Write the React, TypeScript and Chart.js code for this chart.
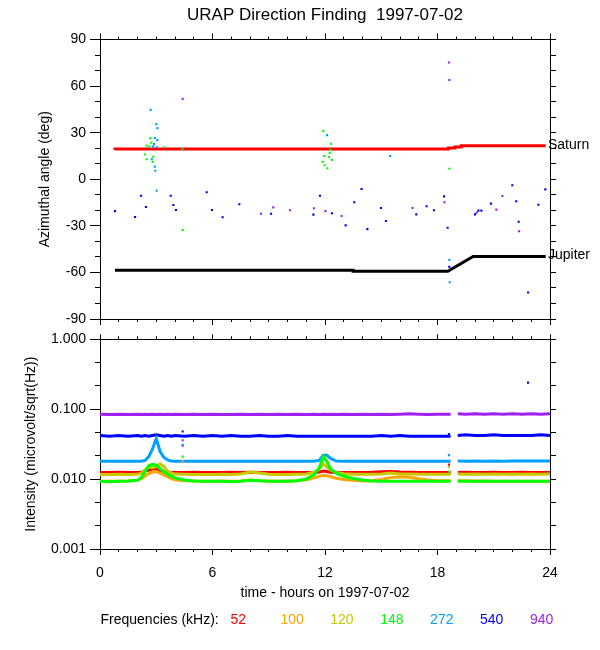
import React, { useEffect, useRef } from 'react';
import { Chart, registerables } from 'chart.js';

Chart.register(...registerables);

const FONT = '"Liberation Sans", Arial, Helvetica, sans-serif';

// ---------- texts ----------
const TITLE = 'URAP Direction Finding  1997-07-02';
const X_TITLE = 'time - hours on 1997-07-02';
const Y_TOP_TITLE = 'Azimuthal angle (deg)';
const Y_BOTTOM_TITLE = 'Intensity (microvolt/sqrt(Hz))';
const LEGEND_TITLE = 'Frequencies (kHz):';
const freqLabels = ['52', '100', '120', '148', '272', '540', '940'];
const freqColors = ['#ff0000', '#ffa500', '#c8c800', '#00ff00', '#00a0ff', '#0000ff', '#a020f0'];
const bodyNames = ['Saturn', 'Jupiter'];

// ---------- ticks ----------
const hourMajorTicks = [0, 6, 12, 18, 24];
const hourMinorTicks = [1, 2, 3, 4, 5, 7, 8, 9, 10, 11, 13, 14, 15, 16, 17, 19, 20, 21, 22, 23];
const angleMajorTicks = [-90, -60, -30, 0, 30, 60, 90];
const angleMinorTicks = [-80, -70, -50, -40, -20, -10, 10, 20, 40, 50, 70, 80];
const angleAllTicks = [-90, -80, -70, -60, -50, -40, -30, -20, -10, 0, 10, 20, 30, 40, 50, 60, 70, 80, 90];
const intensityDecadeTicks = [0.001, 0.01, 0.1, 1];
const intensityMinorTicks = [0.00215, 0.00464, 0.0215, 0.0464, 0.215, 0.464];
const intensityAllTicks = [0.001, 0.00215, 0.00464, 0.01, 0.0215, 0.0464, 0.1, 0.215, 0.464, 1];

// ---------- top panel: source directions ----------
const saturnHours = [0.8, 18.58, 18.93, 19.27, 19.63, 23.77];
const saturnAngles = [18.9, 19.5, 20.2, 20.8, 21.5, 21.5];
const jupiterHours = [0.8, 13.5, 13.5, 18.55, 19.9, 23.77];
const jupiterAngles = [-58.6, -58.6, -59.3, -59.3, -49.8, -49.8];

// [hour, azimuth deg]
const df940 = [
  [4.41, 51.8], [8.59, -22.2], [9.24, -18.1], [10.13, -20.0], [11.41, -18.7], [12.02, -20.5],
  [12.89, -23.7], [16.67, -18.5], [18.37, -14.8], [18.61, 75.2], [18.63, 63.9], [20.09, -21.5],
  [21.14, -19.6], [21.46, -10.8], [22.35, -33.5],
];
const df540 = [
  [0.8, -20.5], [1.87, -24.3], [2.19, -10.6], [2.45, -17.9], [3.77, -10.6], [3.91, -16.6],
  [4.05, -19.8], [5.69, -8.4], [5.97, -19.8], [6.54, -24.5], [7.43, -16.1], [9.12, -22.2],
  [11.38, -22.8], [11.73, -10.6], [12.37, -21.9], [13.1, -29.7], [13.56, -14.8], [13.95, -6.3],
  [14.26, -32.1], [14.99, -18.5], [15.25, -26.9], [16.87, -22.6], [17.42, -17.4], [17.81, -20.0],
  [18.35, -11.0], [18.54, -31.2], [18.63, -56.4], [20.0, -22.6], [20.18, -20.2], [20.34, -20.2],
  [20.85, -15.7], [21.99, -3.9], [22.2, -14.2], [22.33, -27.4], [22.83, -72.9], [23.38, -16.4],
  [23.75, -6.5],
];
const df272 = [
  [2.7, 44.7], [3.0, 35.5], [3.06, 32.9], [2.93, 26.6], [3.06, 25.2], [2.83, 21.0], [2.88, 22.6],
  [3.04, 20.6], [2.76, 12.9], [2.92, 8.1], [2.95, 5.5], [3.02, -7.4], [12.11, 28.4], [15.47, 15.0],
  [18.63, -51.9], [18.65, -66.3],
];
const df148 = [
  [2.68, 26.5], [2.74, 23.6], [2.49, 21.7], [2.63, 21.0], [3.43, 20.6], [4.39, 19.7], [2.4, 15.9],
  [2.49, 12.9], [2.84, 14.6], [2.81, 11.2], [4.41, -32.7], [11.91, 31.0], [12.32, 22.8], [12.27, 18.9],
  [12.25, 17.0], [11.95, 15.0], [12.21, 14.3], [12.36, 12.5], [11.87, 11.2], [11.98, 9.0], [12.12, 7.1],
  [18.63, 6.8],
];

// ---------- bottom panel: intensities ----------
const hours = [
  0, 0.5, 1, 1.5, 2,
  2.2, 2.4, 2.6, 2.8, 3.0, 3.2, 3.4, 3.6, 3.8, 4.0,
  4.5, 5, 5.5, 6, 6.5, 7, 7.5, 8, 8.5, 9, 9.5, 10, 10.5, 11,
  11.4, 11.7, 11.9, 12.1, 12.3, 12.6, 13,
  13.5, 14, 14.5, 15, 15.5, 16, 16.5, 17, 17.5, 18, 18.7,
  18.9,
  19.08, 19.5, 20, 20.5, 21, 21.5, 22, 22.5, 23, 23.5, 24,
];
const int52 = [
  0.0124, 0.0124, 0.0125, 0.0124, 0.0124,
  0.0125, 0.013, 0.0135, 0.014, 0.0138, 0.0133, 0.0128, 0.0125, 0.0124, 0.0124,
  0.0124, 0.0125, 0.0124, 0.0124, 0.0124, 0.0125, 0.0124, 0.0125, 0.0124, 0.0124, 0.0124, 0.0125, 0.0124, 0.0124,
  0.0124, 0.0126, 0.013, 0.0128, 0.0125, 0.0124, 0.0124,
  0.0124, 0.0124, 0.0125, 0.0127, 0.0128, 0.0126, 0.0125, 0.0124, 0.0124, 0.0124, 0.0124,
  null,
  0.0124, 0.0125, 0.0124, 0.0124, 0.0125, 0.0124, 0.0124, 0.0125, 0.0124, 0.0124, 0.0124,
];
const int100 = [
  0.0093, 0.0093, 0.0093, 0.0094, 0.0096,
  0.0102, 0.011, 0.012, 0.0126, 0.0128, 0.0122, 0.0115, 0.0108, 0.0102, 0.0098,
  0.0095, 0.0094, 0.0093, 0.0093, 0.0094, 0.0093, 0.0094, 0.0097, 0.0095, 0.0094, 0.0093, 0.0094, 0.0095, 0.0098,
  0.0104, 0.011, 0.0113, 0.0112, 0.0108, 0.0103, 0.0099,
  0.0096, 0.0094, 0.0095, 0.0099, 0.0105, 0.0108, 0.0106, 0.0101, 0.0097, 0.0095, 0.0095,
  null,
  0.0095, 0.0095, 0.0094, 0.0094, 0.0093, 0.0093, 0.0093, 0.0093, 0.0093, 0.0093, 0.0093,
];
const int120 = [
  0.0116, 0.0116, 0.0117, 0.0116, 0.0117,
  0.0122, 0.0135, 0.0148, 0.0145, 0.0152, 0.0165, 0.0152, 0.013, 0.0122, 0.0118,
  0.0117, 0.0116, 0.0116, 0.0116, 0.0117, 0.0116, 0.0118, 0.0126, 0.0122, 0.0117, 0.0116, 0.0116, 0.0117, 0.0118,
  0.0125, 0.014, 0.0165, 0.015, 0.0135, 0.0124, 0.0119,
  0.0117, 0.0117, 0.0117, 0.0118, 0.0122, 0.0118, 0.0118, 0.0117, 0.0117, 0.0117, 0.0117,
  null,
  0.0118, 0.0117, 0.0118, 0.0117, 0.0118, 0.0117, 0.0118, 0.0117, 0.0118, 0.0117, 0.0118,
];
const int148 = [
  0.0093, 0.0092, 0.0093, 0.0094, 0.0096,
  0.0105, 0.0128, 0.0155, 0.0163, 0.0158, 0.014, 0.0128, 0.0117, 0.011, 0.0104,
  0.0097, 0.0094, 0.0093, 0.0093, 0.0093, 0.0092, 0.0093, 0.0096, 0.0095, 0.0093, 0.0093, 0.0093, 0.0095, 0.01,
  0.0115, 0.0145, 0.021, 0.018, 0.0138, 0.0122, 0.011,
  0.0102, 0.0097, 0.0094, 0.0093, 0.0093, 0.0093, 0.0093, 0.0093, 0.0093, 0.0093, 0.0093,
  null,
  0.0093, 0.0093, 0.0093, 0.0093, 0.0093, 0.0093, 0.0093, 0.0093, 0.0093, 0.0093, 0.0093,
];
const int272 = [
  0.018, 0.018, 0.018, 0.018, 0.018,
  0.018, 0.0185, 0.021, 0.027, 0.038, 0.025, 0.0205, 0.0188, 0.0181, 0.018,
  0.018, 0.018, 0.018, 0.018, 0.018, 0.018, 0.018, 0.018, 0.018, 0.018, 0.018, 0.018, 0.018, 0.018,
  0.018, 0.0185, 0.022, 0.022, 0.0198, 0.0181, 0.018,
  0.018, 0.018, 0.018, 0.018, 0.018, 0.018, 0.018, 0.018, 0.018, 0.018, 0.018,
  null,
  0.0181, 0.018, 0.0181, 0.018, 0.0181, 0.018, 0.0181, 0.0182, 0.0181, 0.0182, 0.0181,
];
const int540 = [
  0.042, 0.041, 0.042, 0.041, 0.042,
  0.041, 0.042, 0.041, 0.042, 0.043, 0.042, 0.041, 0.042, 0.041, 0.042,
  0.041, 0.042, 0.041, 0.042, 0.041, 0.042, 0.041, 0.041, 0.042, 0.041, 0.041, 0.042, 0.041, 0.041,
  0.041, 0.041, 0.041, 0.041, 0.041, 0.041, 0.041,
  0.041, 0.041, 0.041, 0.042, 0.041, 0.042, 0.041, 0.041, 0.041, 0.041, 0.041,
  null,
  0.042, 0.043, 0.042, 0.042, 0.043, 0.042, 0.042, 0.042, 0.042, 0.043, 0.042,
];
const int940 = [
  0.085, 0.084, 0.085, 0.084, 0.085,
  0.084, 0.085, 0.084, 0.085, 0.084, 0.085, 0.084, 0.085, 0.084, 0.085,
  0.084, 0.085, 0.084, 0.085, 0.084, 0.084, 0.085, 0.084, 0.085, 0.084, 0.085, 0.084, 0.085, 0.084,
  0.085, 0.084, 0.085, 0.084, 0.085, 0.084, 0.085,
  0.084, 0.085, 0.084, 0.085, 0.084, 0.085, 0.086, 0.085, 0.084, 0.085, 0.085,
  null,
  0.086, 0.085, 0.086, 0.085, 0.086, 0.085, 0.086, 0.085, 0.086, 0.085, 0.086,
];

// isolated intensity samples [hour, value]
const spike52 = [[18.61, 0.0161]];
const spike100 = [[4.41, 0.018]];
const spike120 = [[18.61, 0.0149]];
const spike148 = [[4.41, 0.021], [18.61, 0.0128]];
const spike272 = [[4.41, 0.031], [18.61, 0.022]];
const spike540 = [[4.41, 0.048], [18.61, 0.044], [22.83, 0.24]];
const spike940 = [[4.41, 0.036], [4.41, 0.03]];

// ---------- helpers ----------
const toXY = (xs: number[], ys: (number | null)[]) => xs.map((x, i) => ({ x, y: ys[i] }));
const pairsToXY = (p: number[][]) => p.map(([x, y]) => ({ x, y }));
const setTicks = (vals: number[]) => (s: any) => {
  s.ticks = vals.map((v) => ({ value: v }));
};

function minorTicksPlugin(xVals: number[], yVals: number[], xLen: number, yLen: number) {
  return {
    id: 'minorTicks',
    afterDraw(chart: any) {
      const { ctx, chartArea: a, scales } = chart;
      ctx.save();
      ctx.strokeStyle = '#000';
      ctx.lineWidth = 1;
      ctx.beginPath();
      for (const v of xVals) {
        const px = Math.round(scales.x.getPixelForValue(v) - 0.5) + 0.5;
        ctx.moveTo(px, a.top);
        ctx.lineTo(px, a.top - xLen);
        ctx.moveTo(px, a.bottom);
        ctx.lineTo(px, a.bottom + xLen);
      }
      for (const v of yVals) {
        const py = Math.round(scales.y.getPixelForValue(v) - 0.5) + 0.5;
        ctx.moveTo(a.left, py);
        ctx.lineTo(a.left - yLen, py);
      }
      ctx.stroke();
      ctx.restore();
    },
  };
}

const bodyLabelPlugin = {
  id: 'bodyLabels',
  afterDraw(chart: any) {
    const { ctx, chartArea, scales } = chart;
    ctx.save();
    ctx.font = `14px ${FONT}`;
    ctx.fillStyle = '#000';
    ctx.textBaseline = 'middle';
    ctx.textAlign = 'left';
    const lasts = [saturnAngles[saturnAngles.length - 1], jupiterAngles[jupiterAngles.length - 1]];
    bodyNames.forEach((name, i) => {
      const y = scales.y.getPixelForValue(lasts[i]);
      ctx.fillText(name, chartArea.right - 2, y - 1);
    });
    ctx.restore();
  },
};

const freqLegendPlugin = {
  id: 'freqLegend',
  afterDraw(chart: any) {
    const { ctx, chartArea: a } = chart;
    ctx.save();
    ctx.font = `14px ${FONT}`;
    ctx.textBaseline = 'middle';
    ctx.textAlign = 'left';
    const y = a.bottom + 71;
    ctx.fillStyle = '#000';
    ctx.fillText(LEGEND_TITLE, a.left + 0.5, y);
    freqLabels.forEach((lab, i) => {
      ctx.fillStyle = freqColors[i];
      ctx.fillText(lab, a.left + 130.5 + i * 49.9, y);
    });
    ctx.restore();
  },
};

const tickFont = { family: FONT, size: 14 };
const gridOpts = (len: number) => ({
  display: true,
  drawOnChartArea: false,
  drawTicks: true,
  tickLength: len,
  color: '#000',
  lineWidth: 1,
});
const borderOpts = { display: true, color: '#000', width: 1 };

function pointSet(label: string, pairs: number[][], color: string, order: number) {
  return {
    type: 'scatter' as const,
    label,
    data: pairsToXY(pairs),
    pointStyle: 'rect',
    pointRadius: 1.5,
    pointBorderWidth: 0,
    backgroundColor: color,
    borderColor: color,
    order,
  };
}

function lineSet(label: string, data: any[], color: string, width: number, order: number, extra: any = {}) {
  return {
    type: 'line' as const,
    label,
    data,
    borderColor: color,
    backgroundColor: color,
    borderWidth: width,
    pointRadius: 0,
    fill: false,
    tension: 0,
    spanGaps: false,
    order,
    ...extra,
  };
}

const commonOptions = {
  responsive: false,
  animation: false as const,
  events: [] as any[],
  layout: { padding: 0 },
  plugins: {
    legend: { display: false },
    tooltip: { enabled: false },
    title: { display: false },
  },
};

function topConfig(): any {
  return {
    type: 'scatter',
    data: {
      datasets: [
        lineSet('Saturn', toXY(saturnHours, saturnAngles), '#ff0000', 3, 10, { stepped: 'after' }),
        lineSet('Jupiter', toXY(jupiterHours, jupiterAngles), '#000000', 3, 10),
        pointSet('148 kHz', df148, freqColors[3], 0),
        pointSet('272 kHz', df272, freqColors[4], 1),
        pointSet('540 kHz', df540, freqColors[5], 2),
        pointSet('940 kHz', df940, freqColors[6], 3),
      ],
    },
    options: {
      ...commonOptions,
      scales: {
        x: {
          type: 'linear', position: 'bottom', min: 0, max: 24,
          afterBuildTicks: setTicks(hourMajorTicks),
          ticks: { display: false },
          grid: gridOpts(6), border: borderOpts,
          afterFit: (s: any) => { s.height = 331; },
        },
        xTop: {
          type: 'linear', position: 'top', min: 0, max: 24,
          afterBuildTicks: setTicks(hourMajorTicks),
          ticks: { display: false },
          grid: gridOpts(6), border: borderOpts,
          title: {
            display: true, text: TITLE, color: '#000',
            font: { family: FONT, size: 17 }, padding: { top: 5, bottom: 0 },
          },
          afterFit: (s: any) => { s.height = 39.5; },
        },
        y: {
          type: 'linear', position: 'left', min: -90, max: 90,
          afterBuildTicks: setTicks(angleMajorTicks),
          ticks: { color: '#000', font: tickFont, padding: 4, autoSkip: false },
          grid: gridOpts(10), border: borderOpts,
          title: {
            display: true, text: Y_TOP_TITLE, color: '#000',
            font: { family: FONT, size: 14 }, padding: { top: 36.6, bottom: 0 },
          },
          afterFit: (s: any) => { s.width = 100; },
        },
        yRight: {
          type: 'linear', position: 'right', min: -90, max: 90,
          afterBuildTicks: setTicks(angleAllTicks),
          ticks: { display: false },
          grid: gridOpts(6), border: borderOpts,
          afterFit: (s: any) => { s.width = 50; },
        },
      },
    },
    plugins: [minorTicksPlugin(hourMinorTicks, angleMinorTicks, 3, 5), bodyLabelPlugin],
  };
}

function bottomConfig(): any {
  return {
    type: 'scatter',
    data: {
      datasets: [
        lineSet('148 kHz', toXY(hours, int148), freqColors[3], 3, 0),
        lineSet('100 kHz', toXY(hours, int100), freqColors[1], 3, 1),
        lineSet('120 kHz', toXY(hours, int120), freqColors[2], 3, 2),
        lineSet('52 kHz', toXY(hours, int52), freqColors[0], 3, 3),
        lineSet('272 kHz', toXY(hours, int272), freqColors[4], 3, 4),
        lineSet('540 kHz', toXY(hours, int540), freqColors[5], 3, 5),
        lineSet('940 kHz', toXY(hours, int940), freqColors[6], 3, 6),
        pointSet('52 kHz samples', spike52, freqColors[0], 0),
        pointSet('100 kHz samples', spike100, freqColors[1], 0),
        pointSet('120 kHz samples', spike120, freqColors[2], 0),
        pointSet('148 kHz samples', spike148, freqColors[3], 0),
        pointSet('272 kHz samples', spike272, freqColors[4], 0),
        pointSet('540 kHz samples', spike540, freqColors[5], 0),
        pointSet('940 kHz samples', spike940, freqColors[6], 0),
      ],
    },
    options: {
      ...commonOptions,
      scales: {
        x: {
          type: 'linear', position: 'bottom', min: 0, max: 24,
          afterBuildTicks: setTicks(hourMajorTicks),
          ticks: { color: '#000', font: tickFont, padding: 9.5, maxRotation: 0, autoSkip: false },
          grid: gridOpts(6), border: borderOpts,
          title: {
            display: true, text: X_TITLE, color: '#000',
            font: { family: FONT, size: 14 }, padding: { top: 0, bottom: 48.6 },
          },
          afterFit: (s: any) => { s.height = 101; },
        },
        xTop: {
          type: 'linear', position: 'top', min: 0, max: 24,
          afterBuildTicks: setTicks(hourMajorTicks),
          ticks: { display: false },
          grid: gridOpts(5), border: borderOpts,
          afterFit: (s: any) => { s.height = 339.3; },
        },
        y: {
          type: 'logarithmic', position: 'left', min: 0.001, max: 1,
          afterBuildTicks: setTicks(intensityDecadeTicks),
          ticks: {
            color: '#000', font: tickFont, padding: 4, autoSkip: false,
            callback: (v: any) => Number(v).toFixed(3),
          },
          grid: gridOpts(10), border: borderOpts,
          title: {
            display: true, text: Y_BOTTOM_TITLE, color: '#000',
            font: { family: FONT, size: 14 }, padding: { top: 22.6, bottom: 0 },
          },
          afterFit: (s: any) => { s.width = 100; },
        },
        yRight: {
          type: 'logarithmic', position: 'right', min: 0.001, max: 1,
          afterBuildTicks: setTicks(intensityAllTicks),
          ticks: { display: false },
          grid: gridOpts(6), border: borderOpts,
          afterFit: (s: any) => { s.width = 50; },
        },
      },
    },
    plugins: [minorTicksPlugin(hourMinorTicks, intensityMinorTicks, 3, 5), freqLegendPlugin],
  };
}

const canvasStyle: React.CSSProperties = { position: 'absolute', left: 0, top: 0, width: 600, height: 650 };

export default function App() {
  const topRef = useRef<HTMLCanvasElement>(null);
  const botRef = useRef<HTMLCanvasElement>(null);

  useEffect(() => {
    const bottom = new Chart(botRef.current as HTMLCanvasElement, bottomConfig());
    const top = new Chart(topRef.current as HTMLCanvasElement, topConfig());
    return () => {
      top.destroy();
      bottom.destroy();
    };
  }, []);

  return (
    <div style={{ position: 'absolute', left: 0, top: 0, width: 600, height: 650, background: '#fff' }}>
      <canvas ref={botRef} width={600} height={650} style={canvasStyle} />
      <canvas ref={topRef} width={600} height={650} style={canvasStyle} />
    </div>
  );
}
